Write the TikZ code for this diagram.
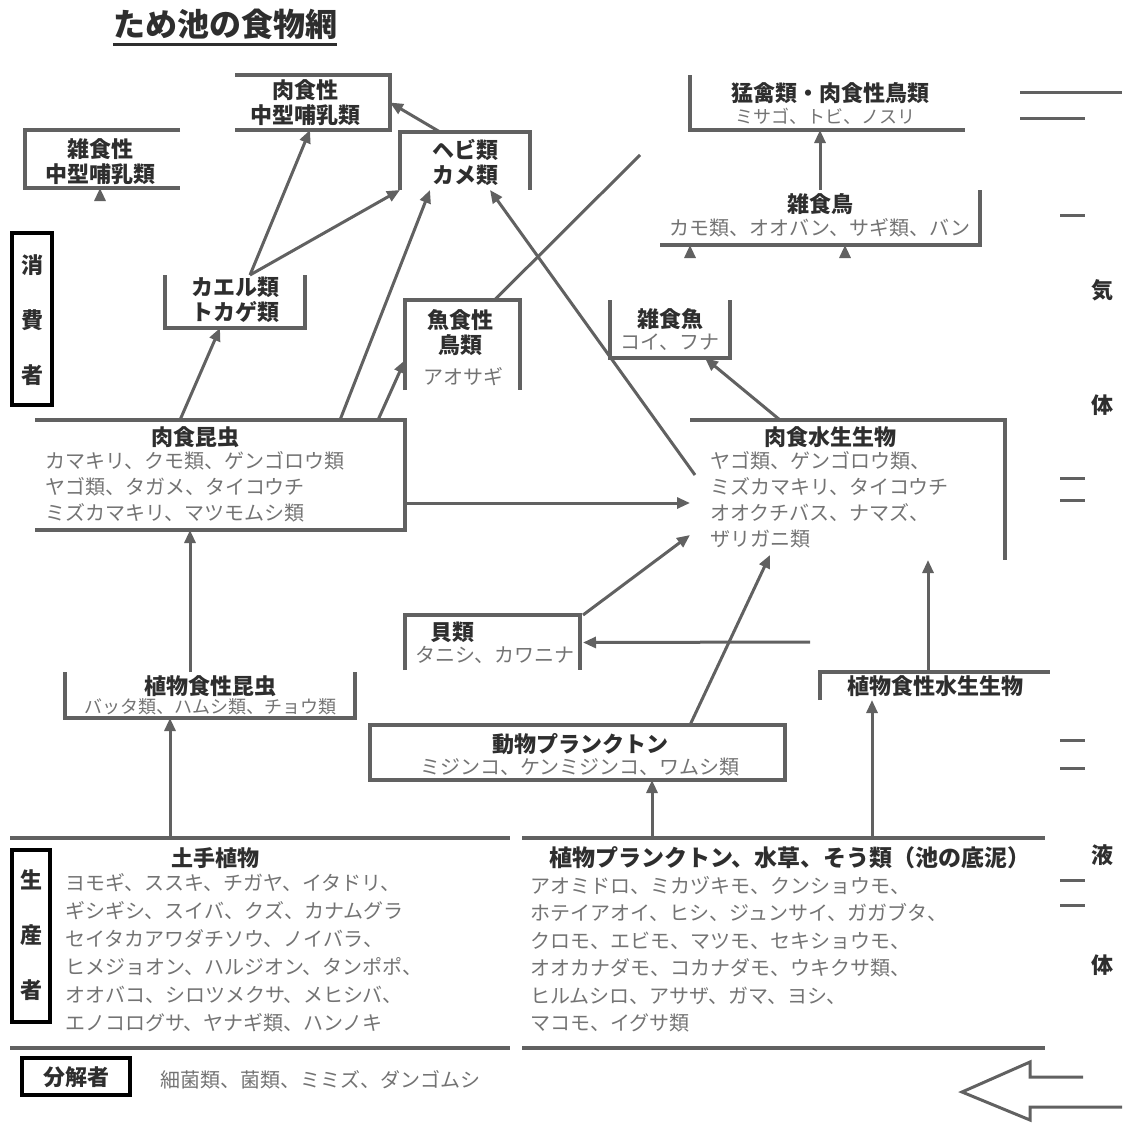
\documentclass[tikz,border=0pt]{standalone}
\usepackage{fontspec}
\setmainfont{Noto Sans CJK JP}
\usetikzlibrary{arrows.meta}
\definecolor{linegray}{gray}{0.38}
\definecolor{headgray}{gray}{0.18}
\definecolor{notegray}{gray}{0.45}

\begin{document}
\begin{tikzpicture}
      [x=1pt,y=-1pt,
        area/.style={inner sep=0pt,outer sep=0pt},
        rim/.style={draw=linegray,line width=3.5pt},
        bare/.style={draw=linegray,line width=3pt},
        link/.style={draw=linegray,line width=3pt,-{Triangle[length=13pt,width=11pt]}},
        head/.style={font=\bfseries\fontsize{22}{25}\selectfont,text=headgray,align=center,inner sep=0pt},
        note/.style={font=\fontsize{20}{26}\selectfont,text=notegray,align=left,inner sep=0pt},
        role/.style={draw=black,line width=4pt,inner sep=0pt,outer sep=0pt}]
      \useasboundingbox (0,0) rectangle (1123,1135);

      % title
      \node[font=\bfseries\fontsize{32}{36}\selectfont,text=headgray,inner sep=0pt] (title) at (225,24) {ため池の食物網};
      \draw[line width=3pt,headgray] ([yshift=-5pt]title.south west) -- ([yshift=-5pt]title.south east);

      % boxes (only some sides are drawn)
      \node[area,minimum width=155pt,minimum height=58pt] (zasshoku) at (102.5,159) {};
      \node[area,minimum width=155pt,minimum height=55pt] (nikushoku) at (312.5,102.5) {};
      \node[area,minimum width=130pt,minimum height=58pt] (hebi) at (465,161) {};
      \node[area,minimum width=140pt,minimum height=53pt] (kaeru) at (235,301.5) {};
      \node[area,minimum width=115pt,minimum height=90pt] (gyoshoku) at (462.5,345) {};
      \node[area,minimum width=275pt,minimum height=55pt] (mokin) at (827.5,102.5) {};
      \node[area,minimum width=320pt,minimum height=55pt] (zatcho) at (820,217.5) {};
      \node[area,minimum width=120pt,minimum height=58pt] (zatgyo) at (670,329) {};
      \node[area,minimum width=370pt,minimum height=110pt] (nikukon) at (220,475) {};
      \node[area,minimum width=315pt,minimum height=140pt] (nikusui) at (847.5,490) {};
      \node[area,minimum width=175pt,minimum height=55pt] (kai) at (492.5,642.5) {};
      \node[area,minimum width=290pt,minimum height=46pt] (shokukon) at (210,695) {};
      \node[area,minimum width=415pt,minimum height=55pt] (doupla) at (577.5,752.5) {};
      \node[area,minimum width=230pt,minimum height=28pt] (shokusui) at (935,686) {};
      \node[area,minimum width=500pt,minimum height=210pt] (dote) at (260,943) {};
      \node[area,minimum width=523pt,minimum height=210pt] (suisou) at (783.5,943) {};

      \draw[rim] (zasshoku.north east) -- (zasshoku.north west) -- (zasshoku.south west) -- (zasshoku.south east);
      \draw[rim] (nikushoku.north west) -- (nikushoku.north east) -- (nikushoku.south east) -- (nikushoku.south west);
      \draw[rim] (hebi.south west) -- (hebi.north west) -- (hebi.north east) -- (hebi.south east);
      \draw[rim] (kaeru.north west) -- (kaeru.south west) -- (kaeru.south east) -- (kaeru.north east);
      \draw[rim] (gyoshoku.south west) -- (gyoshoku.north west) -- (gyoshoku.north east) -- (gyoshoku.south east);
      \draw[rim] (mokin.north west) -- (mokin.south west) -- (mokin.south east);
      \draw[rim] (zatcho.south west) -- (zatcho.south east) -- (zatcho.north east);
      \draw[rim] (zatgyo.north west) -- (zatgyo.south west) -- (zatgyo.south east) -- (zatgyo.north east);
      \draw[rim] (nikukon.north west) -- (nikukon.north east) -- (nikukon.south east) -- (nikukon.south west);
      \draw[rim] (nikusui.north west) -- (nikusui.north east) -- (nikusui.south east);
      \draw[rim] (kai.south west) -- (kai.north west) -- (kai.north east) -- (kai.south east);
      \draw[rim] (shokukon.north west) -- (shokukon.south west) -- (shokukon.south east) -- (shokukon.north east);
      \draw[rim] (doupla.north west) rectangle (doupla.south east);
      \draw[rim] (shokusui.south west) -- (shokusui.north west) -- (shokusui.north east);
      \draw[rim] (dote.north west) -- (dote.north east);
      \draw[rim] (dote.south west) -- (dote.south east);
      \draw[rim] (suisou.north west) -- (suisou.north east);
      \draw[rim] (suisou.south west) -- (suisou.south east);

      % texts in the boxes
      \node[head] (zasshoku-t) at (100,162) {雑食性\\中型哺乳類};
      \node[head] (nikushoku-t) at (305,103) {肉食性\\中型哺乳類};
      \node[head] (hebi-t) at (465,162) {ヘビ類\\カメ類};
      \node[head] (kaeru-t) at (235,300) {カエル類\\トカゲ類};
      \node[head] (gyoshoku-t) at (460,333) {魚食性\\鳥類};
      \node[note] (gyoshoku-n) at (463,377) {アオサギ};
      \node[head] (mokin-t) at (830,93) {猛禽類・肉食性鳥類};
      \node[note,font=\fontsize{18}{24}\selectfont] (mokin-n) at (825,116) {ミサゴ、トビ、ノスリ};
      \node[head] (zatcho-t) at (820,204) {雑食鳥};
      \node[note] (zatcho-n) at (820,228) {カモ類、オオバン、サギ類、バン};
      \node[head] (zatgyo-t) at (670,319) {雑食魚};
      \node[note] (zatgyo-n) at (670,342) {コイ、フナ};
      \node[head] (nikukon-t) at (195,437) {肉食昆虫};
      \node[note,anchor=north west] (nikukon-n) at (45,451)
            {カマキリ、クモ類、ゲンゴロウ類\\ヤゴ類、タガメ、タイコウチ\\ミズカマキリ、マツモムシ類};
      \node[head] (nikusui-t) at (830,437) {肉食水生生物};
      \node[note,anchor=north west] (nikusui-n) at (710,451)
            {ヤゴ類、ゲンゴロウ類、\\ミズカマキリ、タイコウチ\\オオクチバス、ナマズ、\\ザリガニ類};
      \node[head,anchor=west] (kai-t) at (430,632) {貝類};
      \node[note] (kai-n) at (495,655) {タニシ、カワニナ};
      \node[head] (shokukon-t) at (210,686) {植物食性昆虫};
      \node[note,font=\fontsize{18}{24}\selectfont] (shokukon-n) at (210,707) {バッタ類、ハムシ類、チョウ類};
      \node[head] (doupla-t) at (580,744) {動物プランクトン};
      \node[note] (doupla-n) at (580,767) {ミジンコ、ケンミジンコ、ワムシ類};
      \node[head] (shokusui-t) at (935,686) {植物食性水生生物};
      \node[head] (dote-t) at (215,858) {土手植物};
      \node[note,anchor=north west,font=\fontsize{20}{28}\selectfont] (dote-n) at (65,873)
            {ヨモギ、ススキ、チガヤ、イタドリ、\\ギシギシ、スイバ、クズ、カナムグラ\\セイタカアワダチソウ、ノイバラ、\\ヒメジョオン、ハルジオン、タンポポ、\\オオバコ、シロツメクサ、メヒシバ、\\エノコログサ、ヤナギ類、ハンノキ};
      \node[head,font=\bfseries\fontsize{23}{25}\selectfont] (suisou-t) at (790,858) {植物プランクトン、水草、そう類（池の底泥）};
      \node[note,anchor=north west,font=\fontsize{20}{27.5}\selectfont] (suisou-n) at (530,876)
            {アオミドロ、ミカヅキモ、クンショウモ、\\ホテイアオイ、ヒシ、ジュンサイ、ガガブタ、\\クロモ、エビモ、マツモ、セキショウモ、\\オオカナダモ、コカナダモ、ウキクサ類、\\ヒルムシロ、アサザ、ガマ、ヨシ、\\マコモ、イグサ類};

      % roles
      \node[role,minimum width=40pt,minimum height=172pt] (shohi) at (32,319) {};
      \node[head,font=\bfseries\fontsize{22}{55}\selectfont] (shohi-t) at (32,320) {消\\費\\者};
      \node[role,minimum width=38pt,minimum height=172pt] (seisan) at (31,936) {};
      \node[head,font=\bfseries\fontsize{22}{55}\selectfont] (seisan-t) at (31,935) {生\\産\\者};
      \node[role,minimum width=108pt,minimum height=37pt] (bunkai) at (76,1076.5) {};
      \node[head] (bunkai-t) at (76,1077) {分解者};
      \node[note,anchor=west] (bunkai-n) at (160,1080) {細菌類、菌類、ミミズ、ダンゴムシ};

      % who eats whom
      \draw[link] ([xshift=15pt]kaeru.north) -- ([xshift=-2.5pt]nikushoku.south);
      \draw[link] ([xshift=15pt]kaeru.north) -- (hebi.south west);
      \draw[link] ([xshift=-25pt]hebi.north) -- (nikushoku.east);
      \draw[link] ([xshift=-40pt]nikukon.north) -- ([xshift=-15pt]kaeru.south);
      \draw[link] ([xshift=120pt]nikukon.north) -- ([xshift=-35pt]hebi.south);
      \draw[link] ([xshift=158pt]nikukon.north) -- ([yshift=-15pt]gyoshoku.west);
      \coordinate (loose1) at (640,155);
      \draw[bare] ([xshift=32pt]gyoshoku.north) -- (loose1);
      \draw[link] (zatcho.north) -- ([xshift=-7.5pt]mokin.south);
      \draw[link] ([xshift=-67.5pt]nikusui.north) -- ([xshift=35pt]zatgyo.south);
      \draw[link] ([xshift=5pt,yshift=15pt]nikusui.west) -- ([xshift=25pt]hebi.south);
      \draw[link] ([yshift=-28pt]nikukon.east) -- ([yshift=-13pt]nikusui.west);
      \draw[link] ([xshift=3pt]kai.north east) -- ([yshift=-45pt]nikusui.west);
      \coordinate (loose2) at (810,642);
      \draw[link] (loose2) -- ([xshift=3pt]kai.east);
      \draw[link] ([xshift=112.5pt]doupla.north) -- ([xshift=-77.5pt,yshift=5pt]nikusui.south);
      \draw[link] ([xshift=-131.5pt]suisou.north) -- ([xshift=74.5pt]doupla.south);
      \draw[link] ([xshift=-7pt]shokusui.north) -- ([xshift=80.5pt]nikusui.south);
      \draw[link] ([xshift=88.5pt]suisou.north) -- ([xshift=-63pt]shokusui.south);
      \draw[link] ([xshift=-20pt]shokukon.north) -- ([xshift=-30pt]nikukon.south);
      \draw[link] ([xshift=-90pt]dote.north) -- ([xshift=-40pt]shokukon.south);
      % short stubs
      \draw[link] ([xshift=-2.5pt,yshift=-9pt]zasshoku.south) -- ([xshift=-2.5pt]zasshoku.south);
      \draw[link] ([xshift=-130pt,yshift=-9pt]zatcho.south) -- ([xshift=-130pt]zatcho.south);
      \draw[link] ([xshift=25pt,yshift=-9pt]zatcho.south) -- ([xshift=25pt]zatcho.south);

      % right column
      \draw[bare] (1020,92) -- (1122,92);
      \draw[bare] (1020,118) -- (1085,118);
      \foreach \y in {215,478,500,740,768,880,905}
        \draw[bare] (1060,\y) -- (1085,\y);
      \node[head] (kitai1) at (1102,290) {気};
      \node[head] (kitai2) at (1102,405) {体};
      \node[head] (ekitai1) at (1102,855) {液};
      \node[head] (ekitai2) at (1102,965) {体};

      % hollow arrow
      \draw[bare,line join=miter] (1083,1077) -- (1030,1077) -- (1030,1062) -- (962,1092)
            -- (1030,1120) -- (1030,1107) -- (1122,1107);
\end{tikzpicture}
\end{document}
